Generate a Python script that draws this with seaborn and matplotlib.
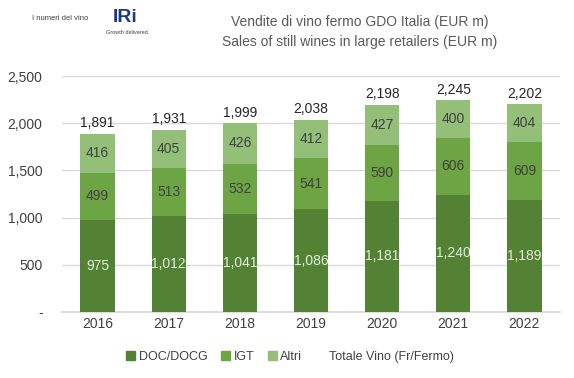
import numpy as np
import pandas as pd
import matplotlib
matplotlib.use("Agg")
import matplotlib.pyplot as plt
import matplotlib.patches as mpatches
import seaborn as sns

years = ["2016", "2017", "2018", "2019", "2020", "2021", "2022"]
doc_docg = [975, 1012, 1041, 1086, 1181, 1240, 1189]
igt = [499, 513, 532, 541, 590, 606, 609]
altri = [416, 405, 426, 412, 427, 400, 404]
totale = [1891, 1931, 1999, 2038, 2198, 2245, 2202]

series_names = ["DOC/DOCG", "IGT", "Altri"]
colors = ["#548235", "#6da444", "#93bf78"]

sns.set_theme(style="white")
plt.rcParams['font.family'] = ['Liberation Sans', 'DejaVu Sans']

fig = plt.figure(figsize=(5.74, 3.78), dpi=100)
ax = fig.add_axes([62 / 574, 1 - 312 / 378, (560 - 62) / 574, (312 - 76) / 378])

df = pd.DataFrame({"year": years, "DOC/DOCG": doc_docg, "IGT": igt, "Altri": altri})
x = np.arange(len(years))
bottom = np.zeros(len(years))
for name, col in zip(series_names, colors):
    vals = df[name].to_numpy()
    ax.bar(x, vals, bottom=bottom, width=0.48, color=col, linewidth=0, zorder=3)
    txt_col = "#e2efd9" if name == "DOC/DOCG" else "#404040"
    for xi, b, v in zip(x, bottom, vals):
        ax.text(xi, b + v / 2, f"{v:,}", ha="center", va="center",
                fontsize=10, color=txt_col, zorder=4)
    bottom = bottom + vals

for xi, t in zip(x, totale):
    ax.text(xi, t + 110, f"{t:,}", ha="center", va="center", fontsize=10, color="#262626")

ax.set_ylim(0, 2500)
ax.set_xlim(-0.5, len(years) - 0.5)
ax.set_yticks([0, 500, 1000, 1500, 2000, 2500])
ax.set_yticklabels(["-", "500", "1,000", "1,500", "2,000", "2,500"])
ax.set_xticks(x)
ax.set_xticklabels(years)
ax.tick_params(axis="both", labelsize=10, colors="#404040", length=0)
ax.tick_params(axis="y", pad=14)
ax.yaxis.grid(True, color="#d9d9d9", linewidth=1, zorder=0)
ax.xaxis.grid(False)
for s in ["top", "right", "left"]:
    ax.spines[s].set_visible(False)
ax.spines["bottom"].set_color("#d9d9d9")

handles = [mpatches.Patch(color=c, label=n) for n, c in zip(series_names, colors)]
handles.append(mpatches.Patch(color="none", label="Totale Vino (Fr/Fermo)"))
fig.legend(handles=handles, loc="center", bbox_to_anchor=(0.505, 1 - 357 / 378),
           ncol=4, frameon=False, fontsize=9, handlelength=0.7, handleheight=0.7,
           handletextpad=0.3, columnspacing=1.1, labelcolor="#404040")

fig.text(0.627, 1 - 22 / 378, "Vendite di vino fermo GDO Italia (EUR m)",
         ha="center", va="center", fontsize=10, color="#595959")
fig.text(0.627, 1 - 42 / 378, "Sales of still wines in large retailers (EUR m)",
         ha="center", va="center", fontsize=10, color="#595959")

# logos as text
fig.text(32 / 574, 1 - 18 / 378, "I numeri del vino", fontsize=5.5, color="#404040", va="center")
fig.text(113 / 574, 1 - 18 / 378, "IRi", fontsize=14, fontweight="bold", color="#1f3a7a", va="center")
fig.text(106 / 574, 1 - 33 / 378, "Growth delivered.", fontsize=4, color="#404040", va="center")

fig.savefig("out.png", dpi=100)
